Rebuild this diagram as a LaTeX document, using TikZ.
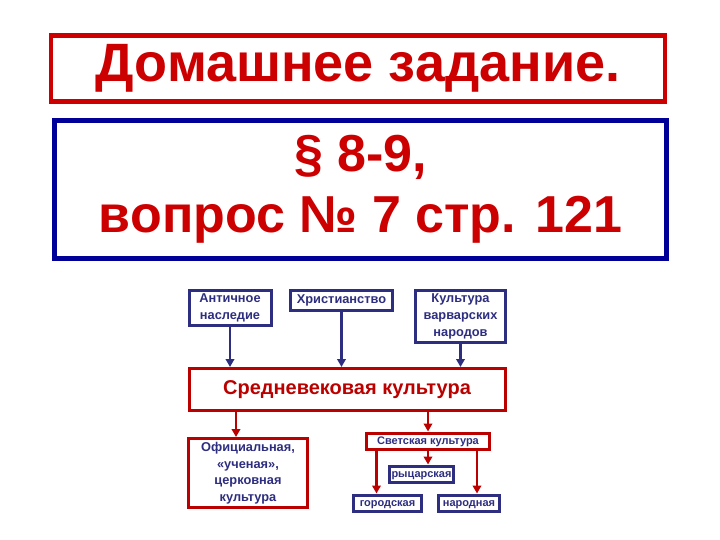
\documentclass[tikz,border=0pt]{standalone}
\usepackage{fontspec}
\setmainfont{Liberation Sans}
\usetikzlibrary{arrows.meta}
\definecolor{hwred}{HTML}{CC0000}
\definecolor{hwblue}{HTML}{000099}
\definecolor{schblue}{HTML}{2E2E80}
\definecolor{schred}{HTML}{BB0000}

\begin{document}
\begin{tikzpicture}[x=1pt, y=-1pt,
    bluebox/.style={draw=schblue, line width=3pt, text=schblue, align=center, inner sep=0pt,
        font=\bfseries\fontsize{12.8}{17}\selectfont},
    redbox/.style={draw=schred, line width=3pt, text=schblue, align=center, inner sep=0pt,
        font=\bfseries\fontsize{12.8}{16.5}\selectfont},
    smallbox/.style={line width=3pt, inner sep=0pt, minimum height=16pt,
        text height=8pt, text depth=2pt, font=\bfseries\fontsize{11}{12}\selectfont},
    bluearrow/.style={schblue, line width=2.5pt, -{Triangle[length=8pt,width=8.5pt]}},
    redarrow/.style={schred, line width=2.5pt, -{Triangle[length=8pt,width=8.5pt]}}]

    \useasboundingbox[fill=white] (0,0) rectangle (720,540);

    % Заголовок
    \node[draw=hwred, line width=4.5pt, minimum width=614pt, minimum height=66pt, text=hwred,
        font=\bfseries\fontsize{54}{60}\selectfont] (title) at (358,68.5) {Домашнее задание.};
    \node[draw=hwblue, line width=4.5pt, minimum width=612pt, minimum height=138pt, text=hwred,
        align=center, font=\bfseries\fontsize{52}{61}\selectfont] (task) at (360.5,189.5)
        {§ 8-9,\\вопрос № 7 стр. 121};

    % Истоки
    \node[bluebox, minimum width=82pt, minimum height=35pt] (ant) at (230,307.5) {Античное\\наследие};
    \node[bluebox, minimum width=102pt, minimum height=20pt, text height=9pt, text depth=2.5pt]
        (chr) at (341.5,300) {Христианство};
    \node[bluebox, minimum width=90pt, minimum height=52pt] (bar) at (460.5,316.5) {Культура\\варварских\\народов};

    % Средневековая культура
    \node[draw=schred, line width=3pt, minimum width=316pt, minimum height=42pt, text=schred,
        font=\bfseries\fontsize{20}{22}\selectfont] (mid) at (347,389.5) {Средневековая культура};

    \draw[bluearrow] (ant.south) -- (ant.south |- mid.north);
    \draw[bluearrow] (chr.south) -- (chr.south |- mid.north);
    \draw[bluearrow] (bar.south) -- (bar.south |- mid.north);

    % Ветви
    \node[redbox, minimum width=119pt, minimum height=69pt] (off) at (248,473)
        {Официальная,\\«ученая»,\\церковная\\культура};
    \node[smallbox, draw=schred, text=schblue, minimum width=123pt]
        (svet) at (428,441) {Светская культура};
    \node[smallbox, draw=schblue, text=schblue, minimum width=64pt] (ryc) at (421.5,474) {рыцарская};
    \node[smallbox, draw=schblue, text=schblue, minimum width=68pt] (gor) at (387.5,503) {городская};
    \node[smallbox, draw=schblue, text=schblue, minimum width=61pt] (nar) at (469,503) {народная};

    \draw[redarrow] ([xshift=-12pt]off.north |- mid.south) -- ([xshift=-12pt]off.north);
    \draw[redarrow] (svet.north |- mid.south) -- (svet.north);
    \draw[redarrow] (svet.south) -- (svet.south |- ryc.north);
    \draw[redarrow] ([xshift=-11pt]gor.north |- svet.south) -- ([xshift=-11pt]gor.north);
    \draw[redarrow] ([xshift=8pt]nar.north |- svet.south) -- ([xshift=8pt]nar.north);

\end{tikzpicture}
\end{document}
